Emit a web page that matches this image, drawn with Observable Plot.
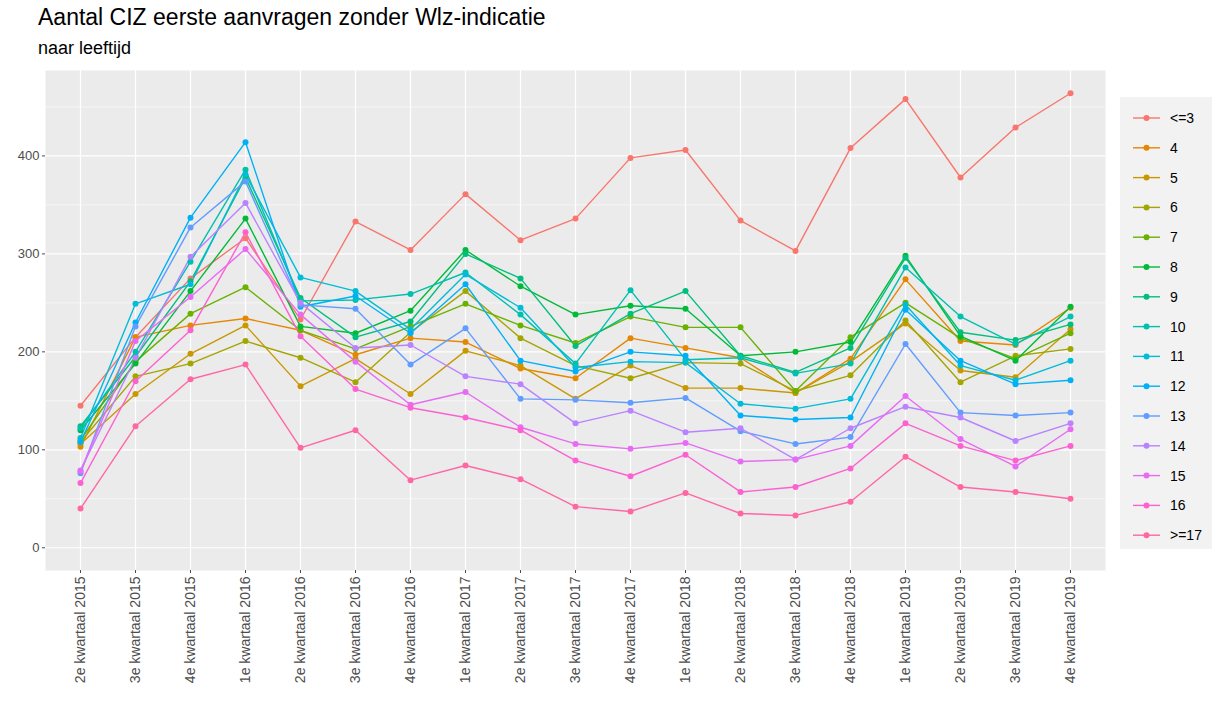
<!DOCTYPE html>
<html><head><meta charset="utf-8">
<script src="https://cdn.jsdelivr.net/npm/d3@7"></script>
<script src="https://cdn.jsdelivr.net/npm/@observablehq/plot@0.6"></script>
<style>
body{margin:0;background:#fff;font-family:"Liberation Sans",Arial,sans-serif;}
#wrap{position:relative;width:1216px;height:704px;overflow:hidden;}
#title{position:absolute;left:38px;top:4px;font-size:23px;color:#000;white-space:nowrap;}
#subtitle{position:absolute;left:38px;top:38px;font-size:18px;color:#000;white-space:nowrap;}
#chart{position:absolute;left:0;top:60px;}
#legend{position:absolute;left:1120px;top:97px;}
</style>
</head><body>
<div id="wrap">
<div id="title">Aantal CIZ eerste aanvragen zonder Wlz-indicatie</div>
<div id="subtitle">naar leeftijd</div>
<div id="chart"></div>
<div id="legend"></div>
</div>
<script>
const quarters = ["2e kwartaal 2015","3e kwartaal 2015","4e kwartaal 2015","1e kwartaal 2016","2e kwartaal 2016","3e kwartaal 2016","4e kwartaal 2016","1e kwartaal 2017","2e kwartaal 2017","3e kwartaal 2017","4e kwartaal 2017","1e kwartaal 2018","2e kwartaal 2018","3e kwartaal 2018","4e kwartaal 2018","1e kwartaal 2019","2e kwartaal 2019","3e kwartaal 2019","4e kwartaal 2019"];
const ages = ["<=3","4","5","6","7","8","9","10","11","12","13","14","15","16",">=17"];
const colors = ["#F8766D","#E58700","#C99800","#A3A500","#6BB100","#00BA38","#00BF7D","#00C0AF","#00BCD8","#00B0F6","#619CFF","#B983FF","#E76BF3","#FD61D1","#FF67A4"];

const sLe3 = [145,215,275,316,233,333,304,361,314,336,398,406,334,303,408,458,378,429,464];
const s4   = [103,215,227,234,222,197,214,210,183,173,214,204,194,158,193,274,211,207,245];
const s5   = [106,157,198,227,165,193,157,201,186,152,186,163,163,158,190,229,181,174,223];
const s6   = [108,175,188,211,194,169,220,262,214,186,173,189,188,160,176,232,169,196,203];
const s7   = [110,190,239,266,222,203,226,249,227,209,236,225,225,160,215,250,214,193,219];
const s8   = [120,188,262,336,226,219,242,304,267,238,247,244,196,200,210,298,216,191,246];
const s9   = [124,195,272,378,255,215,231,300,275,206,239,262,196,179,204,296,220,212,228];
const s10  = [122,200,292,386,252,253,259,281,238,188,263,192,194,178,188,286,236,208,236];
const s11  = [112,249,269,381,276,262,223,279,245,184,190,189,147,142,152,248,186,171,191];
const s12  = [108,230,337,414,246,257,219,269,191,180,200,196,135,131,133,243,191,167,171];
const s13  = [76,226,327,374,248,244,187,224,152,151,148,153,119,106,113,208,138,135,138];
const s14  = [79,194,297,352,250,204,207,175,167,127,140,118,122,90,122,144,133,109,127];
const s15  = [78,211,256,305,238,190,146,159,123,106,101,107,88,90,104,155,111,83,121];
const s16  = [66,170,222,322,216,162,143,133,120,89,73,95,57,62,81,127,104,89,104];
const sGe17= [40,124,172,187,102,120,69,84,70,42,37,56,35,33,47,93,62,57,50];

const seriesValues = [sLe3,s4,s5,s6,s7,s8,s9,s10,s11,s12,s13,s14,s15,s16,sGe17];
const majorY = [0,100,200,300,400];
const minorY = [50,150,250,350,450];

const data = ages.flatMap((a,i)=>seriesValues[i].map((v,j)=>({age:a,q:quarters[j],v})));

const chart = Plot.plot({
  width:1216, height:640,
  marginTop:10, marginBottom:130, marginLeft:45, marginRight:111,
  style:{fontFamily:"'Liberation Sans',Arial,sans-serif", fontSize:"13px", background:"transparent"},
  x:{type:"point", domain:quarters, padding:0.6},
  y:{domain:[-23.2,487.2]},
  color:{domain:ages, range:colors},
  marks:[
    Plot.frame({fill:"#EBEBEB", stroke:null}),
    Plot.ruleY(minorY,{stroke:"#ffffff", strokeWidth:0.6}),
    Plot.ruleY(majorY,{stroke:"#ffffff", strokeWidth:1.2}),
    Plot.ruleX(quarters,{stroke:"#ffffff", strokeWidth:1.2}),
    Plot.axisY({ticks:majorY, tickSize:3, tickPadding:3, label:null, color:"#4D4D4D", fontSize:13}),
    Plot.axisX({tickRotate:-90, tickSize:3, tickPadding:3, label:null, color:"#4D4D4D", fontSize:14}),
    Plot.line(data,{x:"q", y:"v", z:"age", stroke:"age", strokeWidth:1.4}),
    Plot.dot(data,{x:"q", y:"v", fill:"age", r:3})
  ]
});
document.getElementById("chart").appendChild(chart);

// legend
const lw = 92, lh = 452, rowTop = 21, step = 29.8;
const lsvg = d3.select("#legend").append("svg").attr("width",lw).attr("height",lh)
  .style("font-family","'Liberation Sans',Arial,sans-serif");
lsvg.append("rect").attr("width",lw).attr("height",lh).attr("fill","#F2F2F2");
ages.forEach((a,i)=>{
  const y = rowTop + i*step;
  lsvg.append("line").attr("x1",13).attr("x2",40).attr("y1",y).attr("y2",y)
    .attr("stroke",colors[i]).attr("stroke-width",1.4);
  lsvg.append("circle").attr("cx",26.5).attr("cy",y).attr("r",3).attr("fill",colors[i]);
  lsvg.append("text").attr("x",50).attr("y",y).attr("dy","0.35em")
    .attr("font-size",14).attr("fill","#000").text(a);
});
</script>
</body></html>
